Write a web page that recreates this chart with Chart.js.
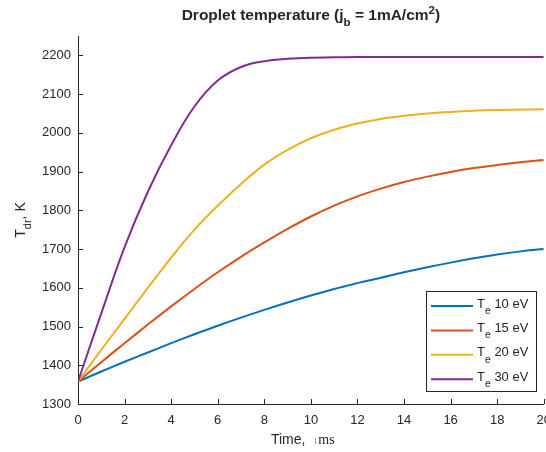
<!DOCTYPE html>
<html>
<head>
<meta charset="utf-8">
<script src="https://cdn.jsdelivr.net/npm/chart.js@4.4.1/dist/chart.umd.min.js"></script>
<style>
  html, body { margin: 0; padding: 0; background: #fff; overflow: hidden; }
  #wrap { width: 560px; height: 452px; }
</style>
</head>
<body>
<div id="wrap"><canvas id="chart" width="560" height="452"></canvas></div>
<script>
// time axis, ms
const timeMs = [0, 1, 2, 3, 4, 5, 6, 7, 8, 9, 10, 11, 12, 13, 14, 15, 16, 17, 18, 19, 20];

// droplet temperature, K, one array per electron temperature
const te10 = [1358, 1384, 1409, 1433, 1457, 1480, 1502, 1523, 1543, 1562, 1580, 1597, 1612, 1626, 1640, 1653, 1665, 1676, 1686, 1694, 1700];
const te15 = [1358, 1408, 1457, 1505, 1552, 1597, 1640, 1680, 1717, 1752, 1784, 1812, 1836, 1856, 1873, 1887, 1899, 1909, 1917, 1924, 1930];
const te20 = [1358, 1440, 1520, 1600, 1678, 1750, 1812, 1868, 1918, 1956, 1986, 2008, 2024, 2036, 2044, 2050, 2054, 2057, 2059, 2060, 2061];
const te30 = [1358, 1534, 1705, 1848, 1968, 2068, 2135, 2170, 2185, 2191, 2194, 2195, 2196, 2196, 2196, 2196, 2196, 2196, 2196, 2196, 2196];

const seriesNames = ['10 eV', '15 eV', '20 eV', '30 eV'];
const seriesColors = ['#0072BD', '#D95319', '#EDB120', '#7E2F8E'];

const xTicks = [0, 2, 4, 6, 8, 10, 12, 14, 16, 18, 20];
const yTicks = [1300, 1400, 1500, 1600, 1700, 1800, 1900, 2000, 2100, 2200];

const SANS = '"Liberation Sans", Arial, Helvetica, sans-serif';
const SERIF = '"Liberation Serif", "Times New Roman", serif';
const INK = '#262626';

function toPoints(ys) {
  return ys.map(function (y, i) { return { x: timeMs[i], y: y }; });
}

// draws runs of text with sub/superscripts, returns width
function drawRuns(ctx, runs, x, y, measureOnly) {
  let cx = x;
  runs.forEach(function (r) {
    ctx.font = r.font;
    if (!measureOnly) ctx.fillText(r.text, cx, y + (r.dy || 0));
    cx += ctx.measureText(r.text).width;
  });
  return cx - x;
}

const labelsPlugin = {
  id: 'labels',
  afterDraw(chart) {
    const ctx = chart.ctx;
    const area = chart.chartArea;
    const xs = chart.scales.x;
    const ys = chart.scales.y;
    ctx.save();

    // inward tick marks
    ctx.strokeStyle = INK;
    ctx.lineWidth = 1;
    ctx.beginPath();
    xTicks.forEach(function (v) {
      const px = Math.round(xs.getPixelForValue(v)) + 0.5;
      ctx.moveTo(px, area.bottom);
      ctx.lineTo(px, area.bottom - 5);
    });
    yTicks.forEach(function (v) {
      const py = Math.round(ys.getPixelForValue(v)) + 0.5;
      ctx.moveTo(area.left, py);
      ctx.lineTo(area.left + 5, py);
    });
    ctx.stroke();

    ctx.fillStyle = INK;
    ctx.textBaseline = 'alphabetic';
    ctx.textAlign = 'left';
    const midX = (area.left + area.right) / 2;

    // title
    const tb = 'bold 15.5px ' + SANS;
    const ts = 'bold 11.5px ' + SANS;
    const titleRuns = [
      { text: 'Droplet temperature (j', font: tb },
      { text: 'b', font: ts, dy: 6 },
      { text: ' = 1mA/cm', font: tb },
      { text: '2', font: ts, dy: -6.5 },
      { text: ')', font: tb }
    ];
    const tw = drawRuns(ctx, titleRuns, 0, 0, true);
    drawRuns(ctx, titleRuns, midX - tw / 2, 20);

    // x axis label
    ctx.font = '14px ' + SANS;
    const xl = 'Time, ';
    const xlx = midX - 40;
    ctx.fillText(xl, xlx, 444);
    const xw = ctx.measureText(xl).width;
    ctx.fillStyle = '#9a9a9a';
    ctx.fillRect(Math.round(xlx + xw + 6), 438, 1, 6);
    ctx.fillStyle = INK;
    ctx.font = '14px ' + SERIF;
    ctx.fillText('ms', xlx + xw + 9, 444);

    // y axis label, rotated
    ctx.save();
    ctx.translate(25, (area.top + area.bottom) / 2);
    ctx.rotate(-Math.PI / 2);
    const yb = '14px ' + SANS;
    const ysm = '11px ' + SANS;
    const yRuns = [
      { text: 'T', font: yb },
      { text: 'dr', font: ysm, dy: 6 },
      { text: ', K', font: yb }
    ];
    const yw = drawRuns(ctx, yRuns, 0, 0, true);
    drawRuns(ctx, yRuns, -yw / 2, 0);
    ctx.restore();

    // legend
    const lx = 426.5, ly = 291.5, lw = 110, lh = 100;
    ctx.fillStyle = '#fff';
    ctx.fillRect(lx, ly, lw, lh);
    ctx.strokeStyle = INK;
    ctx.lineWidth = 1;
    ctx.strokeRect(lx, ly, lw, lh);
    seriesNames.forEach(function (name, i) {
      const cy = 306 + i * 24.4;
      ctx.strokeStyle = seriesColors[i];
      ctx.lineWidth = 2;
      ctx.beginPath();
      ctx.moveTo(431, cy);
      ctx.lineTo(473, cy);
      ctx.stroke();
      ctx.fillStyle = INK;
      drawRuns(ctx, [
        { text: 'T', font: '13px ' + SANS },
        { text: 'e', font: '10.5px ' + SANS, dy: 6.5 },
        { text: ' ' + name, font: '13px ' + SANS }
      ], 477, cy + 1.5);
    });

    ctx.restore();
  }
};

const datasets = [te10, te15, te20, te30].map(function (ys, i) {
  return {
    label: seriesNames[i],
    data: toPoints(ys),
    borderColor: seriesColors[i],
    backgroundColor: seriesColors[i],
    borderWidth: 2,
    pointRadius: 0,
    tension: 0.4,
    fill: false,
    order: 3 - i
  };
});

Chart.defaults.font.family = SANS;
Chart.defaults.color = INK;

new Chart(document.getElementById('chart'), {
  type: 'line',
  data: { datasets: datasets },
  options: {
    responsive: false,
    animation: false,
    layout: { padding: { top: 36, right: 15, left: 0, bottom: 0 } },
    plugins: {
      legend: { display: false },
      title: { display: false },
      tooltip: { enabled: false }
    },
    scales: {
      x: {
        type: 'linear',
        min: 0,
        max: 20,
        grid: { display: false, drawTicks: false },
        border: { display: true, color: INK, width: 1 },
        ticks: {
          font: { size: 13 }, color: INK, padding: 9, maxRotation: 0, autoSkip: false,
          callback: function (v) { return String(v); }
        },
        afterBuildTicks: function (s) { s.ticks = xTicks.map(function (v) { return { value: v }; }); },
        afterFit: function (s) { s.height = 48; }
      },
      y: {
        type: 'linear',
        min: 1300,
        max: 2250,
        grid: { display: false, drawTicks: false },
        border: { display: true, color: INK, width: 1 },
        ticks: {
          font: { size: 13 }, color: INK, padding: 7, autoSkip: false,
          callback: function (v) { return String(v); }
        },
        afterBuildTicks: function (s) { s.ticks = yTicks.map(function (v) { return { value: v }; }); },
        afterFit: function (s) { s.width = 78; }
      }
    }
  },
  plugins: [labelsPlugin]
});
</script>
</body>
</html>
